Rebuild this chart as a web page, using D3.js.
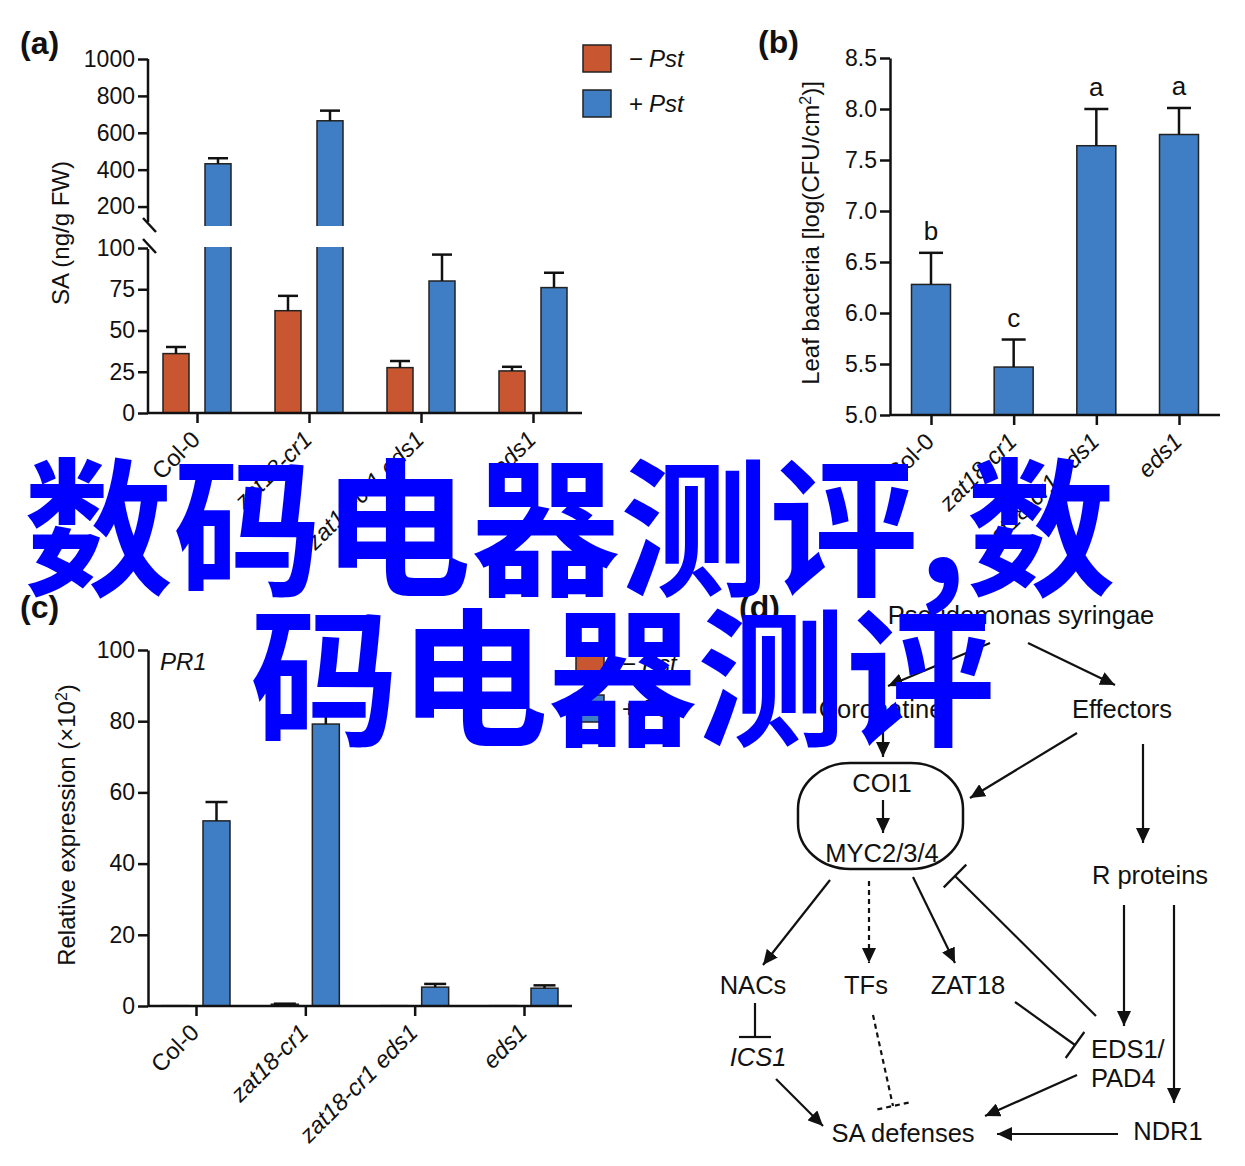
<!DOCTYPE html>
<html>
<head>
<meta charset="utf-8">
<script src="https://cdn.jsdelivr.net/npm/d3@7"></script>
<style>
body { margin: 0; background: #fff; }
svg { display: block; }
text { font-family: "Liberation Sans", Arial, Helvetica, sans-serif; fill: #111; }
</style>
</head>
<body>
<svg id="fig" width="1245" height="1166"></svg>
<script>
// ---- data ----
var genotypes = ["Col-0", "zat18-cr1", "zat18-cr1 eds1", "eds1"];
var italicGeno = [false, true, true, true];

// (a) SA content, ng/g FW
var saMock = [36, 62, 27.5, 25.5];
var saMockErr = [4, 9, 4, 2.5];
var saPst = [432, 665, 80, 76];
var saPstErr = [30, 55, 16, 9];
var saTicksLow = [0, 25, 50, 75, 100];
var saTicksHigh = [200, 400, 600, 800, 1000];

// (b) leaf bacteria, log(CFU/cm2)
var bact = [6.28, 5.47, 7.64, 7.75];
var bactErr = [0.31, 0.27, 0.36, 0.26];
var bactLetters = ["b", "c", "a", "a"];
var bactTicks = [5.0, 5.5, 6.0, 6.5, 7.0, 7.5, 8.0, 8.5];

// (c) PR1 relative expression (x10^2)
var prMock = [0.1, 0.5, 0.1, 0.1];
var prMockErr = [0, 0.15, 0, 0];
var prPst = [52, 79.2, 5.3, 5.0];
var prPstErr = [5.3, 4, 0.9, 0.8];
var prTicks = [0, 20, 40, 60, 80, 100];

var treatments = ["\u2212", "+"];

var ORANGE = "#C85631", BLUE = "#3F7EC5";

var svg = d3.select("#fig");

svg.append("defs").append("marker")
  .attr("id", "arr").attr("markerUnits", "userSpaceOnUse")
  .attr("markerWidth", 16).attr("markerHeight", 14)
  .attr("refX", 15).attr("refY", 7).attr("orient", "auto")
  .append("path").attr("d", "M0,0L15,7L0,14Z").attr("fill", "#111");

function panelLetter(x, y, s) {
  svg.append("text").attr("x", x).attr("y", y)
    .attr("font-size", 32).attr("font-weight", "bold").text(s);
}

function styleAxis(g) {
  g.selectAll("path,line").attr("stroke", "#111").attr("stroke-width", 2.5);
  g.selectAll("text").attr("font-size", 23).attr("fill", "#111")
    .attr("font-family", "Liberation Sans, Arial, sans-serif");
}

function xLabels(g, x) {
  var ax = d3.axisBottom(x).tickSize(10).tickSizeOuter(0).tickFormat("");
  g.call(ax);
  g.select(".domain").remove();
  styleAxis(g);
  g.selectAll(".tick").append("text")
    .attr("transform", "translate(4,28) rotate(-45)")
    .attr("text-anchor", "end")
    .attr("font-size", 23.5)
    .attr("fill", "#111")
    .attr("font-style", function(d, i) { return italicGeno[i] ? "italic" : "normal"; })
    .text(function(d) { return d; });
}

function errBar(g, cx, y0, y1, w) {
  g.append("line").attr("x1", cx).attr("x2", cx).attr("y1", y0).attr("y2", y1)
    .attr("stroke", "#111").attr("stroke-width", 2.5);
  g.append("line").attr("x1", cx - w / 2).attr("x2", cx + w / 2).attr("y1", y1).attr("y2", y1)
    .attr("stroke", "#111").attr("stroke-width", 2.5);
}

function legend(x, y) {
  var colors = [ORANGE, BLUE];
  treatments.forEach(function(t, i) {
    svg.append("rect").attr("x", x).attr("y", y + i * 45).attr("width", 28).attr("height", 27)
      .attr("fill", colors[i]).attr("stroke", "#222").attr("stroke-width", 1.5);
    var tx = svg.append("text").attr("x", x + 46).attr("y", y + i * 45 + 22).attr("font-size", 24);
    tx.append("tspan").text(t);
    tx.append("tspan").attr("dx", 6).attr("font-style", "italic").text("Pst");
  });
}

// ---------------- (a) ----------------
panelLetter(20, 54, "(a)");
(function() {
  var axX = 148, axEnd = 582, base = 413;
  var yLow = d3.scaleLinear().domain([0, 100]).range([413, 248]);
  var yHigh = d3.scaleLinear().domain([100, 1000]).range([225, 59]);
  var x = d3.scalePoint().domain(genotypes).range([197, 533]);
  var bw = 26, off = 21;
  function yv(v) { return v <= 100 ? yLow(v) : yHigh(v); }

  var g = svg.append("g");
  var series = [[saMock, saMockErr, ORANGE, -off], [saPst, saPstErr, BLUE, off]];
  series.forEach(function(s) {
    g.selectAll(null).data(genotypes).enter().append("rect")
      .attr("x", function(d) { return x(d) + s[3] - bw / 2; })
      .attr("y", function(d, i) { return yv(s[0][i]); })
      .attr("width", bw)
      .attr("height", function(d, i) { return base - yv(s[0][i]); })
      .attr("fill", s[2]).attr("stroke", "#222").attr("stroke-width", 1.5);
    genotypes.forEach(function(d, i) {
      errBar(g, x(d) + s[3], yv(s[0][i]), yv(s[0][i] + s[1][i]), 20);
    });
  });
  // white gap across broken bars
  genotypes.forEach(function(d, i) {
    if (saPst[i] > 100) {
      g.append("rect").attr("x", x(d) + off - bw / 2 - 2).attr("y", 226)
        .attr("width", bw + 4).attr("height", 21).attr("fill", "#fff");
    }
  });

  var gl = svg.append("g").attr("transform", "translate(" + axX + ",0)")
    .call(d3.axisLeft(yLow).tickValues(saTicksLow).tickFormat(d3.format("d"))
      .tickSize(10).tickSizeOuter(0).tickPadding(3));
  gl.select(".domain").remove();
  styleAxis(gl);
  var gh = svg.append("g").attr("transform", "translate(" + axX + ",0)")
    .call(d3.axisLeft(yHigh).tickValues(saTicksHigh).tickFormat(d3.format("d"))
      .tickSize(10).tickSizeOuter(0).tickPadding(3));
  gh.select(".domain").remove();
  styleAxis(gh);
  svg.append("line").attr("x1", axX).attr("x2", axX).attr("y1", yHigh(1000)).attr("y2", 222)
    .attr("stroke", "#111").attr("stroke-width", 2.5);
  svg.append("line").attr("x1", axX).attr("x2", axX).attr("y1", 249).attr("y2", base)
    .attr("stroke", "#111").attr("stroke-width", 2.5);
  [225, 246].forEach(function(yy) {
    svg.append("line").attr("x1", axX - 5).attr("x2", axX + 8).attr("y1", yy - 7).attr("y2", yy + 7)
      .attr("stroke", "#111").attr("stroke-width", 2.5);
  });
  svg.append("line").attr("x1", axX).attr("x2", axEnd).attr("y1", base).attr("y2", base)
    .attr("stroke", "#111").attr("stroke-width", 2.5);
  xLabels(svg.append("g").attr("transform", "translate(0," + base + ")"), x);

  svg.append("text").attr("transform", "translate(69,233) rotate(-90)")
    .attr("text-anchor", "middle").attr("font-size", 24).text("SA (ng/g FW)");
  legend(583, 45);
})();

// ---------------- (b) ----------------
panelLetter(758, 53, "(b)");
(function() {
  var axX = 890, axEnd = 1220, base = 415;
  var y = d3.scaleLinear().domain([5, 8.5]).range([415, 58]);
  var x = d3.scalePoint().domain(genotypes).range([931, 1179]);
  var bw = 39;
  var g = svg.append("g");
  g.selectAll(null).data(genotypes).enter().append("rect")
    .attr("x", function(d) { return x(d) - bw / 2; })
    .attr("y", function(d, i) { return y(bact[i]); })
    .attr("width", bw)
    .attr("height", function(d, i) { return base - y(bact[i]); })
    .attr("fill", BLUE).attr("stroke", "#222").attr("stroke-width", 1.5);
  genotypes.forEach(function(d, i) {
    errBar(g, x(d), y(bact[i]), y(bact[i] + bactErr[i]), 24);
    g.append("text").attr("x", x(d)).attr("y", y(bact[i] + bactErr[i]) - 13)
      .attr("text-anchor", "middle").attr("font-size", 26).text(bactLetters[i]);
  });
  var ga = svg.append("g").attr("transform", "translate(" + axX + ",0)")
    .call(d3.axisLeft(y).tickValues(bactTicks).tickFormat(d3.format(".1f"))
      .tickSize(10).tickSizeOuter(0).tickPadding(3));
  styleAxis(ga);
  svg.append("line").attr("x1", axX).attr("x2", axEnd).attr("y1", base).attr("y2", base)
    .attr("stroke", "#111").attr("stroke-width", 2.5);
  xLabels(svg.append("g").attr("transform", "translate(0," + base + ")"), x);

  var t = svg.append("text").attr("transform", "translate(819,233) rotate(-90)")
    .attr("text-anchor", "middle").attr("font-size", 24);
  t.append("tspan").text("Leaf bacteria [log(CFU/cm");
  t.append("tspan").attr("baseline-shift", "super").attr("font-size", 16).text("2");
  t.append("tspan").text(")]");
})();

// ---------------- (c) ----------------
panelLetter(20, 618, "(c)");
(function() {
  var axX = 148, axEnd = 572, base = 1006;
  var y = d3.scaleLinear().domain([0, 100]).range([1006, 650]);
  var x = d3.scalePoint().domain(genotypes).range([196, 524]);
  var bw = 27, off = 20.5;
  var g = svg.append("g");
  var series = [[prMock, prMockErr, ORANGE, -off], [prPst, prPstErr, BLUE, off]];
  series.forEach(function(s) {
    g.selectAll(null).data(genotypes).enter().append("rect")
      .attr("x", function(d) { return x(d) + s[3] - bw / 2; })
      .attr("y", function(d, i) { return y(s[0][i]); })
      .attr("width", bw)
      .attr("height", function(d, i) { return base - y(s[0][i]); })
      .attr("fill", s[2]).attr("stroke", "#222").attr("stroke-width", 1.5);
    genotypes.forEach(function(d, i) {
      if (s[1][i] > 0) errBar(g, x(d) + s[3], y(s[0][i]), y(s[0][i] + s[1][i]), 22);
    });
  });
  var ga = svg.append("g").attr("transform", "translate(" + axX + ",0)")
    .call(d3.axisLeft(y).tickValues(prTicks).tickSize(10).tickSizeOuter(0).tickPadding(3));
  styleAxis(ga);
  svg.append("line").attr("x1", axX).attr("x2", axEnd).attr("y1", base).attr("y2", base)
    .attr("stroke", "#111").attr("stroke-width", 2.5);
  xLabels(svg.append("g").attr("transform", "translate(0," + base + ")"), x);

  svg.append("text").attr("x", 160).attr("y", 670).attr("font-size", 24)
    .attr("font-style", "italic").text("PR1");
  var t = svg.append("text").attr("transform", "translate(75,825) rotate(-90)")
    .attr("text-anchor", "middle").attr("font-size", 24);
  t.append("tspan").text("Relative expression (\u00d710");
  t.append("tspan").attr("baseline-shift", "super").attr("font-size", 16).text("2");
  t.append("tspan").text(")");
  legend(576, 650);
})();

// ---------------- (d) pathway diagram ----------------
panelLetter(739, 618, "(d)");
var nodes = [
  { t: "Pseudomonas syringae", x: 1021, y: 624 },
  { t: "Coronatine", x: 881, y: 718 },
  { t: "Effectors", x: 1122, y: 718 },
  { t: "COI1", x: 882, y: 792 },
  { t: "MYC2/3/4", x: 882, y: 862 },
  { t: "R proteins", x: 1150, y: 884 },
  { t: "NACs", x: 753, y: 994 },
  { t: "TFs", x: 866, y: 994 },
  { t: "ZAT18", x: 968, y: 994 },
  { t: "ICS1", x: 758, y: 1066, it: true },
  { t: "EDS1/", x: 1091, y: 1058, a: "start" },
  { t: "PAD4", x: 1091, y: 1087, a: "start" },
  { t: "NDR1", x: 1168, y: 1140 },
  { t: "SA defenses", x: 903, y: 1142 }
];
// [x1, y1, x2, y2, type] : a = arrow, i = inhibition; d = dashed
var links = [
  [990, 643, 888, 686, "a"],
  [1028, 643, 1115, 685, "a"],
  [883, 730, 883, 757, "a"],
  [883, 800, 883, 833, "a"],
  [1077, 733, 970, 798, "a"],
  [1143, 744, 1143, 843, "a"],
  [830, 880, 763, 965, "a"],
  [869, 881, 869, 963, "ad"],
  [913, 877, 955, 963, "a"],
  [1124, 905, 1124, 1026, "a"],
  [1174, 905, 1174, 1103, "a"],
  [776, 1079, 823, 1126, "a"],
  [1077, 1075, 985, 1116, "a"],
  [1118, 1134, 997, 1134, "a"],
  [1096, 1016, 955, 876, "i"],
  [755, 1003, 755, 1037, "i"],
  [1015, 1002, 1075, 1045, "i"],
  [873, 1015, 893, 1106, "id"]
];

var gd = svg.append("g");
gd.append("rect").attr("x", 798).attr("y", 763).attr("width", 165).attr("height", 106)
  .attr("rx", 52).attr("ry", 46).attr("fill", "none").attr("stroke", "#111").attr("stroke-width", 2.5);

links.forEach(function(l) {
  var dashed = l[4].indexOf("d") >= 0;
  var ln = gd.append("line").attr("x1", l[0]).attr("y1", l[1]).attr("x2", l[2]).attr("y2", l[3])
    .attr("stroke", "#111").attr("stroke-width", 2.2);
  if (dashed) ln.attr("stroke-dasharray", "5,4");
  if (l[4][0] === "a") {
    ln.attr("marker-end", "url(#arr)");
  } else {
    var dx = l[2] - l[0], dy = l[3] - l[1], len = Math.sqrt(dx * dx + dy * dy);
    var px = -dy / len * 16, py = dx / len * 16;
    var bar = gd.append("line").attr("x1", l[2] - px).attr("y1", l[3] - py)
      .attr("x2", l[2] + px).attr("y2", l[3] + py)
      .attr("stroke", "#111").attr("stroke-width", 2.2);
    if (dashed) bar.attr("stroke-dasharray", "5,4");
  }
});

gd.selectAll(null).data(nodes).enter().append("text")
  .attr("x", function(d) { return d.x; })
  .attr("y", function(d) { return d.y; })
  .attr("text-anchor", function(d) { return d.a || "middle"; })
  .attr("font-size", 25.5)
  .attr("font-style", function(d) { return d.it ? "italic" : "normal"; })
  .text(function(d) { return d.t; });

// ---------------- watermark ----------------
var wm = ["\u6570\u7801\u7535\u5668\u6d4b\u8bc4,\u6570", "\u7801\u7535\u5668\u6d4b\u8bc4"];
svg.append("text").attr("x", 24).attr("y", 584).text(wm[0])
  .style("font-family", "'Noto Sans CJK SC', sans-serif").attr("font-weight", 700)
  .attr("font-size", 149).style("fill", "#0000FF");
svg.append("text").attr("x", 250).attr("y", 734).text(wm[1])
  .style("font-family", "'Noto Sans CJK SC', sans-serif").attr("font-weight", 700)
  .attr("font-size", 149).style("fill", "#0000FF");
</script>
</body>
</html>
